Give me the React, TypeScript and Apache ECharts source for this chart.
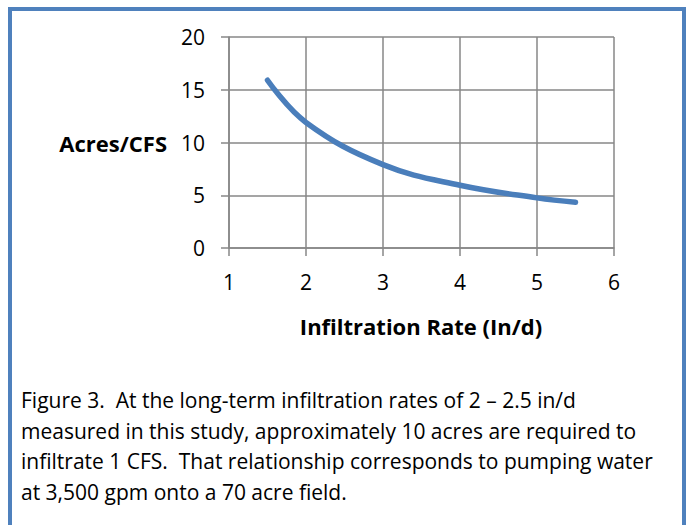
import React, { useEffect, useRef } from "react";
import * as echarts from "echarts";

const rates = [1.5, 2, 3, 4, 5, 5.5];
const acresPerCfs = [15.9, 11.9, 7.9, 5.95, 4.75, 4.33];
const xAxisTitle = "Infiltration Rate (In/d)";
const yAxisTitle = "Acres/CFS";
const captionLines = [
  "Figure 3.  At the long-term infiltration rates of 2 \u2013 2.5 in/d",
  "measured in this study, approximately 10 acres are required to",
  "infiltrate 1 CFS.  That relationship corresponds to pumping water",
  "at 3,500 gpm onto a 70 acre field.",
];

const FONT = "'Open Sans', sans-serif";

export default function App() {
  const ref = useRef<HTMLDivElement>(null);
  useEffect(() => {
    if (!ref.current) return;
    const chart = echarts.init(ref.current, null, { renderer: "svg" });
    chart.setOption({
      animation: false,
      backgroundColor: "#ffffff",
      grid: { left: 229, right: 73, top: 37, bottom: 277 },
      xAxis: {
        type: "value",
        min: 1,
        max: 6,
        interval: 1,
        axisLine: { show: true, lineStyle: { color: "#878787", width: 1.5 } },
        axisTick: { show: true, length: 8, lineStyle: { color: "#878787", width: 1.5 } },
        splitLine: { show: true, lineStyle: { color: "#878787", width: 1.5 } },
        axisLabel: { color: "#000", fontSize: 21, fontFamily: FONT, margin: 23 },
      },
      yAxis: {
        type: "value",
        min: 0,
        max: 20,
        interval: 5,
        axisLine: { show: true, lineStyle: { color: "#878787", width: 1.5 } },
        axisTick: { show: true, length: 8, lineStyle: { color: "#878787", width: 1.5 } },
        splitLine: { show: true, lineStyle: { color: "#878787", width: 1.5 } },
        axisLabel: { color: "#000", fontSize: 21, fontFamily: FONT, margin: 24 },
      },
      series: [
        {
          type: "line",
          data: rates.map((r, i) => [r, acresPerCfs[i]]),
          smooth: 0.4,
          showSymbol: false,
          lineStyle: { color: "#4a7ebb", width: 5.5, cap: "round" },
        },
      ],
      graphic: [
        {
          type: "rect",
          shape: { x: 10, y: 9, width: 674, height: 600 },
          style: { fill: "none", stroke: "#4f81bd", lineWidth: 4 },
          silent: true,
        },
        {
          type: "text",
          x: 167,
          y: 143,
          style: {
            text: yAxisTitle,
            fontSize: 22,
            fontWeight: "bold",
            fontFamily: FONT,
            fill: "#000",
            align: "right",
            verticalAlign: "middle",
          },
        },
        {
          type: "text",
          x: 421,
          y: 326,
          style: {
            text: xAxisTitle,
            fontSize: 22,
            fontWeight: "bold",
            fontFamily: FONT,
            fill: "#000",
            align: "center",
            verticalAlign: "middle",
          },
        },
        ...captionLines.map((line, i) => ({
          type: "text",
          x: 21,
          y: 400 + i * 30.5,
          style: {
            text: line,
            fontSize: 21,
            fontFamily: FONT,
            fill: "#000",
            align: "left",
            verticalAlign: "middle",
          },
        })),
      ],
    });
    return () => chart.dispose();
  }, []);
  return (
    <div
      ref={ref}
      style={{ position: "absolute", left: 0, top: 0, width: 687, height: 525 }}
    />
  );
}
